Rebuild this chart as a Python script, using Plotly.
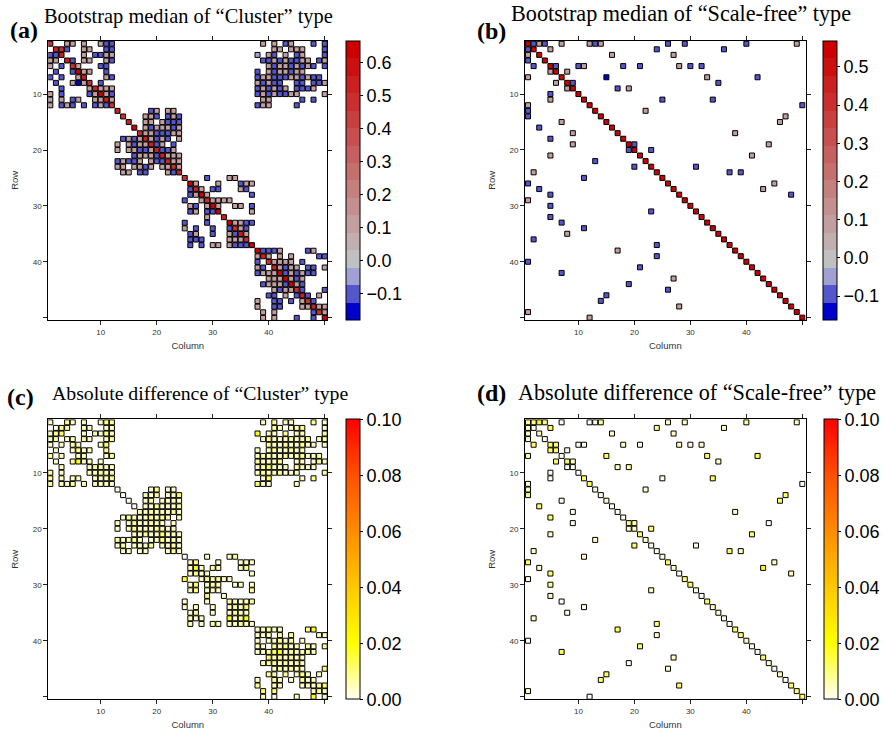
import plotly.graph_objects as go

# ---------------------------------------------------------------------------
# Sparse 50 x 50 matrices.  One string per row; each token is "<column><level>".
# Levels of the bootstrap medians:
MEDIAN_LEVELS = {"S": 0.62, "R": 0.55, "r": 0.46, "m": 0.3, "p": 0.1,
                 "q": 0.05, "l": -0.04, "b": -0.1, "B": -0.16}
# Levels of the absolute differences (one character per token of the matching row)
ABSDIFF_LEVELS = {"0": 0.0005, "1": 0.004, "2": 0.008, "3": 0.012, "4": 0.018}

CLUSTER_MEDIAN = [
    "1r 4p 5p 7p 10p 11b 12b 39p 41p 43b 44p 48b 50b",
    "2R 3r 4b 7p 8p 11b 12b 41p 42p 44p 45p 46p 50b",
    "1b 2b 3R 7p 9b 10b 11p 12p 38l 40p 41b 43p 45b 46p 50b",
    "1p 2p 4R 5b 7p 8p 11p 12b 39b 40b 41p 42b 43p 44b 45b 46p 47p 49b 50p",
    "1p 3b 5r 6p 10b 11b 40p 41b 42p 43p 44b 45p 46b 47p 48b 50b",
    "2b 5b 6S 7p 8p 11b 38b 40p 41b 42p 43p 44b 45p 46p",
    "1b 3b 6p 7R 11p 12b 38b 39p 40p 41b 42b 43b 44p 45p 46b 47p 48b 49b",
    "2b 5p 6B 7p 8r 10b 38p 39b 40p 41b 42b 45b 46b 48b 49b 50p",
    "3b 8p 9R 10p 11p 12p 38b 39p 40b 41p 42b 43p 45b 46b 47b 48p",
    "1p 3b 8b 9p 10S 11p 12b 38b 39p 40b 41p 42b 43b 44p 45p 50p",
    "1p 3p 5b 6p 9p 10p 11R 12p 39p 40p 46b 48b",
    "1p 3b 4p 5b 7b 9b 10p 11b 12r 38b 39p 40p 45b",
    "13R 19b 20p 22p 23p",
    "14r 18p 19p 20b 22b 23p 24b",
    "15R 18p 19p 21p 22b 23b 24b",
    "16S 18p 19b 20p 21p 22p 23b 24p",
    "17r 18p 19p 20b 21b 22b 23p 24p",
    "14b 15p 16b 17p 18R 19p 20b 21p 22b 24p",
    "13p 15p 16b 17p 18p 19R 20b 21p 23b",
    "13p 15p 16p 17b 18b 19p 20R 21b 22b 23p",
    "16b 17p 18p 19p 20b 21R 22p 23p 24p",
    "13b 14p 15b 16b 17p 19p 20b 21b 22R 23p 24p",
    "13p 14p 16p 17p 18b 19p 21p 22p 23r 24p",
    "14p 15p 17b 18b 22p 23b 24R",
    "25r 29b 33p 34p",
    "26S 27p 31p 35b 36p 37p",
    "26b 27R 28p 30b 31b 35p 36b",
    "26b 27p 28S 29p 37b",
    "25b 28p 29r 30p 31p 32p 33p",
    "26p 27b 29p 30S 31p 34p 35p 37b",
    "26b 27p 29b 30b 31S 37p",
    "29p 32R",
    "25b 29b 33S 34p 35p 36b 37b",
    "25p 27b 30b 33b 34r 35p 36b",
    "26b 27p 30b 33p 34b 35R 36p",
    "26b 27b 28b 33p 34p 35p 36r",
    "26b 28b 30p 31p 33p 34b 35b 36b 37S",
    "38S 39b 40b 41b 42p 47b 48p",
    "38p 39R 40p 42p 44p 49b 50b",
    "38b 40r 41p 42p 43p 44p 46b",
    "38p 39b 41R 42p 43b 44p 45p 47b 48b 50p",
    "38b 39p 40p 41p 42S 43b 44p 45b 46p 47b 48b",
    "40p 41p 42p 43S 44p 45b 46p",
    "39b 40p 41p 42p 43b 44S 45p 46b",
    "41p 42b 43p 44p 45r 46b 50b",
    "40b 41b 43p 45b 46R 47b 49p",
    "38p 41b 42b 44b 46p 47r 48b",
    "38p 41b 42b 46p 47p 48R 49p 50p",
    "39p 41p 48b 49r 50p",
    "39p 41p 45b 48b 50S",
]

CLUSTER_ABSDIFF = [
    "1211122121121", "0221111211121", "123111214112112",
    "1211211212111211212", "1121132112112111", "11211211211211",
    "211112121112112112", "1241112111211121", "1121111231112111",
    "2111211121121112", "211111121312", "2112111113111",
    "01211", "0112113", "0121111", "01121112", "21211121",
    "1211121211", "112112111", "1121112111", "112113111",
    "21121112111", "1211121121", "1111121",
    "0112", "121111", "1412112", "12111", "4121211", "13121111",
    "121112", "31", "1121112", "1111213", "1211211", "1114124",
    "212111211",
    "1121124", "1112211", "1112121", "1121211212", "11234121121",
    "3121211", "12212121", "1212113", "2121211", "1211211",
    "21111123", "33121", "10141",
]

SCALEFREE_MEDIAN = [
    "1R 2b 3p 4b 7p 12p 13b 14p 26b 29b 40b 49p",
    "1b 2R 5p 24b 36b",
    "1p 3R 16p 27p",
    "1b 4R",
    "2b 5R 6b 10b 11p 18b 21b 28p 30b 32b",
    "5p 6R 8p",
    "1p 7R 15B 33p 42b",
    "6p 8R 9b 35b",
    "8p 9R 17b 19p",
    "5b 10R",
    "5p 11R 25b 34b",
    "1p 12R 50b",
    "1b 13R 22p",
    "1b 14R 47p",
    "7p 15R 46p",
    "3b 16R",
    "9p 17R 38p",
    "5b 18R",
    "9p 19R 20b 44p",
    "19b 20R 23b",
    "5p 21R 41p",
    "13b 22R",
    "20b 23R 31b",
    "2p 24R 37b 39b",
    "11b 25R",
    "1b 26R 45p",
    "3b 27R 43p",
    "5b 28R 48b",
    "1p 29R",
    "5b 30R",
    "23b 31R",
    "5b 32R",
    "7b 33R",
    "11b 34R",
    "8p 35R",
    "2b 36R",
    "24b 37R",
    "17p 38R",
    "24b 39R",
    "1b 40R",
    "21b 41R",
    "7b 42R",
    "27p 43R",
    "19b 44R",
    "26b 45R",
    "15b 46R",
    "14b 47R",
    "28p 48R",
    "1p 49R",
    "12p 50R",
]

SCALEFREE_ABSDIFF = [
    "224200021121", "10321", "1111", "10", "3330010101", "330", "20333",
    "3311", "0012", "00", "0303", "130", "101", "303", "013", "30", "001",
    "30", "0310", "113", "133", "11", "300", "1031", "10", "331", "114",
    "301", "03", "23", "10", "10", "03", "01", "01", "10", "30", "33",
    "13", "01", "30", "30", "13", "01", "10", "31", "30", "33", "13", "03",
]

# Colour keys
MEDIAN_COLORS = [
    "#0000CC", "#5555CC", "#A0A0D2", "#C0C0C0",
    "#C1AEAE", "#C29E9E", "#C38F8F", "#C47F7F", "#C56F6F", "#C65F5F",
    "#C74F4F", "#C83F3F", "#C92F2F", "#CA2020", "#CB1010", "#CC0000",
]
ABSDIFF_SCALE = [[0.0, "#FFFFF4"], [0.2, "#FFFF00"], [0.4, "#FFC800"],
                 [0.6, "#FF8C00"], [0.8, "#FF5000"], [1.0, "#FF0000"]]

W, H = 886, 733
SANS = "Liberation Sans, Arial, Helvetica, sans-serif"
SERIF = "Liberation Serif, Times New Roman, Times, serif"


def median_cells(rows):
    xs, ys, zs = [], [], []
    for r, row in enumerate(rows, start=1):
        for tok in row.split():
            xs.append(int(tok[:-1]))
            ys.append(r)
            zs.append(MEDIAN_LEVELS[tok[-1]])
    return xs, ys, zs


def absdiff_cells(rows, codes):
    xs, ys, zs = [], [], []
    for r, (row, code) in enumerate(zip(rows, codes), start=1):
        toks = row.split()
        assert len(toks) == len(code), (r, len(toks), len(code))
        for tok, c in zip(toks, code):
            xs.append(int(tok[:-1]))
            ys.append(r)
            zs.append(ABSDIFF_LEVELS[c])
    return xs, ys, zs


def stepped(colors):
    n = len(colors)
    cs = []
    for i, c in enumerate(colors):
        cs.append([i / n, c])
        cs.append([(i + 1) / n, c])
    return cs


def px_x(p):
    return p / W


def px_y(p):
    return 1 - p / H


# panel boxes in pixels: (left, right, top, bottom)
BOX = {
    "a": (48.3, 327.3, 40.7, 320.0),
    "b": (525.0, 805.7, 40.7, 320.0),
    "c": (48.3, 327.3, 419.3, 699.3),
    "d": (525.0, 805.7, 419.3, 699.3),
}
XR = {"a": [0.64, 50.46], "b": [0.46, 50.6], "c": [0.64, 50.46], "d": [0.46, 50.6]}
YR = {"a": [50.38, 0.46], "b": [50.42, 0.46], "c": [50.46, 0.46], "d": [50.46, 0.46]}
CBX = {"a": 346, "b": 823, "c": 346, "d": 824}

fig = go.Figure()

panels = [
    ("a", "x", "y", median_cells(CLUSTER_MEDIAN), "median", (-0.18, 0.665)),
    ("b", "x2", "y2", median_cells(SCALEFREE_MEDIAN), "median", (-0.162, 0.568)),
    ("c", "x3", "y3", absdiff_cells(CLUSTER_MEDIAN, CLUSTER_ABSDIFF), "diff", (0, 0.1)),
    ("d", "x4", "y4", absdiff_cells(SCALEFREE_MEDIAN, SCALEFREE_ABSDIFF), "diff", (0, 0.1)),
]

for key, xa, ya, (xs, ys, zs), kind, (lo, hi) in panels:
    l, r, t, b = BOX[key]
    if kind == "median":
        cscale = stepped(MEDIAN_COLORS)
        tv = [-0.1, 0.0, 0.1, 0.2, 0.3, 0.4, 0.5, 0.6]
        tv = [v for v in tv if lo <= v <= hi]
        fmt = ".1f"
    else:
        cscale = ABSDIFF_SCALE
        tv = [0.0, 0.02, 0.04, 0.06, 0.08, 0.1]
        fmt = ".2f"
    fig.add_trace(go.Scatter(
        x=xs, y=ys, xaxis=xa, yaxis=ya, mode="markers",
        marker=dict(
            symbol="square", size=5.0, color=zs, cmin=lo, cmax=hi,
            colorscale=cscale, line=dict(color="black", width=1),
            showscale=True,
            colorbar=dict(
                x=px_x(CBX[key]), xanchor="left", xpad=0, ypad=0,
                y=px_y((t + b) / 2), yanchor="middle",
                len=b - t, lenmode="pixels", thickness=14, thicknessmode="pixels",
                outlinewidth=1, outlinecolor="black",
                ticks="outside", ticklen=3, tickwidth=1, tickcolor="black",
                tickvals=tv, tickformat=fmt,
                tickfont=dict(family=SANS, size=18, color="black"),
            ),
        ),
        hoverinfo="skip", showlegend=False,
    ))

    axis_common = dict(
        showgrid=False, zeroline=False, showline=True, mirror="ticks",
        linecolor="black", linewidth=1, ticks="outside", ticklen=4,
        tickwidth=1, tickcolor="#222",
        tickvals=[10, 20, 30, 40, 50], ticktext=["10", "20", "30", "40", ""],
        tickfont=dict(family=SANS, size=8, color="#333"),
    )
    suffix = "" if xa == "x" else xa[1:]
    fig.layout["xaxis" + suffix] = dict(
        axis_common, domain=[px_x(l), px_x(r)], range=XR[key],
        anchor=ya,
        title=dict(text="Column", font=dict(family=SANS, size=9.5, color="#333"),
                   standoff=6),
    )
    fig.layout["yaxis" + suffix] = dict(
        axis_common, domain=[px_y(b), px_y(t)], range=YR[key],
        anchor=xa,
        title=dict(text="Row", font=dict(family=SANS, size=9.5, color="#333"),
                   standoff=12),
    )

TITLES = [
    ("(a)", 8, 30, "Bootstrap median of “Cluster” type", 42, 16, 20.4),
    ("(b)", 475, 31, "Bootstrap median of “Scale-free” type", 509, 14, 22.2),
    ("(c)", 5, 397, "Absolute difference of “Cluster” type", 50, 393, 19.8),
    ("(d)", 475, 393, "Absolute difference of “Scale-free” type", 516, 392, 22.2),
]
for tag, tx, ty, text, sx, sy, fs in TITLES:
    fig.add_annotation(x=px_x(tx), y=px_y(ty), xref="paper", yref="paper",
                       text="<b>" + tag + "</b>", showarrow=False,
                       xanchor="left", yanchor="middle",
                       font=dict(family=SERIF, size=24, color="black"))
    fig.add_annotation(x=px_x(sx), y=px_y(sy), xref="paper", yref="paper",
                       text=text, showarrow=False,
                       xanchor="left", yanchor="middle",
                       font=dict(family=SERIF, size=fs, color="black"))

fig.update_layout(
    width=W, height=H, margin=dict(l=0, r=0, t=0, b=0),
    paper_bgcolor="white", plot_bgcolor="white", showlegend=False,
)

fig.write_html("out.html")
